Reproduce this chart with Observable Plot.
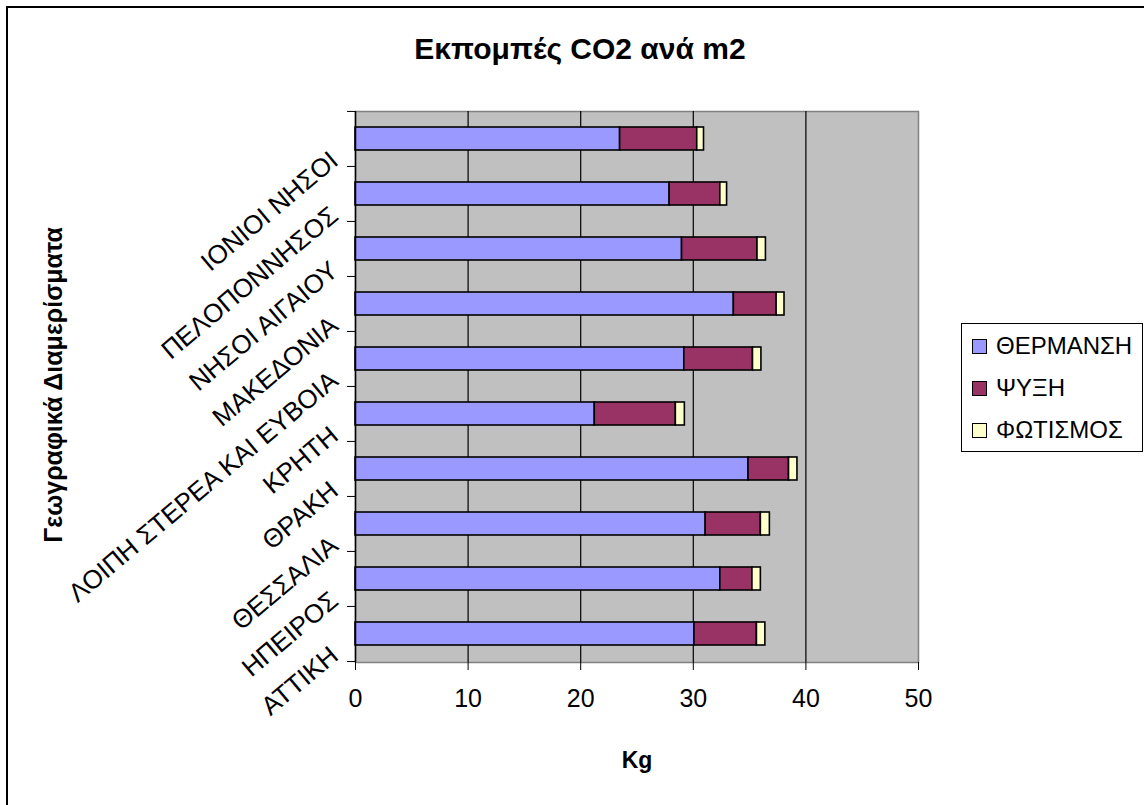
<!DOCTYPE html>
<html>
<head>
<meta charset="utf-8">
<script src="https://cdn.jsdelivr.net/npm/d3@7"></script>
<script src="https://cdn.jsdelivr.net/npm/@observablehq/plot@0.6"></script>
<style>
  body { margin: 0; background: #fff; font-family: "Liberation Sans", Arial, sans-serif; }
  #wrap { position: relative; width: 1144px; height: 805px; overflow: hidden; }
  #chart { position: absolute; left: 0; top: 0; }
  #border { position: absolute; left: 6px; top: 6px; width: 1200px; height: 900px;
            border-left: 2px solid #000; border-top: 2px solid #000; pointer-events: none; }
  .lbl { position: absolute; font-weight: bold; color: #000; white-space: nowrap; line-height: 30px; }
  #title { left: 0; width: 1160px; text-align: center; top: 34px; font-size: 30px; }
  #xtitle { left: 537px; width: 200px; text-align: center; top: 745px; font-size: 23px; }
  #ytitle { left: 53px; top: 385px; font-size: 25px; transform: translate(-50%, -50%) rotate(-90deg); }
  #legend { position: absolute; left: 961px; top: 323px; width: 180px; height: 127px;
            border: 1px solid #000; background: #fff; }
  .item { position: absolute; left: 10px; font-size: 24px; line-height: 28px; white-space: nowrap; }
  .sw { display: inline-block; width: 13px; height: 13px; border: 1.5px solid #000; margin-right: 9px; vertical-align: 0px; }
</style>
</head>
<body>
<div id="wrap">
  <div id="chart"></div>
  <div id="border"></div>
  <div class="lbl" id="title"></div>
  <div class="lbl" id="ytitle"></div>
  <div class="lbl" id="xtitle"></div>
  <div id="legend"></div>
</div>
<script>
// ---- Data ----
const titleText = "Εκπομπές CO2 ανά m2";
const yTitle = "Γεωγραφικά Διαμερίσματα";
const xTitle = "Kg";
const regions = ["ΙΟΝΙΟΙ ΝΗΣΟΙ", "ΠΕΛΟΠΟΝΝΗΣΟΣ", "ΝΗΣΟΙ ΑΙΓΑΙΟΥ", "ΜΑΚΕΔΟΝΙΑ",
  "ΛΟΙΠΗ ΣΤΕΡΕΑ ΚΑΙ ΕΥΒΟΙΑ", "ΚΡΗΤΗ", "ΘΡΑΚΗ", "ΘΕΣΣΑΛΙΑ", "ΗΠΕΙΡΟΣ", "ΑΤΤΙΚΗ"];
const heating  = [23.5, 27.9, 29.0, 33.6, 29.2, 21.25, 34.9, 31.1, 32.4, 30.1];
const cooling  = [6.85, 4.5, 6.7, 3.8, 6.1, 7.2, 3.6, 4.9, 2.85, 5.55];
const lighting = [0.6, 0.6, 0.75, 0.7, 0.75, 0.8, 0.75, 0.8, 0.75, 0.75];
const seriesNames = ["ΘΕΡΜΑΝΣΗ", "ΨΥΞΗ", "ΦΩΤΙΣΜΟΣ"];
const seriesColors = ["#9999FF", "#993366", "#FFFFCC"];
const xTicks = [0, 10, 20, 30, 40, 50];

// ---- Build table ----
const seriesValues = [heating, cooling, lighting];
const data = [];
regions.forEach((r, i) => {
  seriesNames.forEach((s, k) => data.push({region: r, type: s, value: seriesValues[k][i]}));
});

const W = 1144, H = 805;
const mL = 355, mR = 226, mT = 111, mB = 143;
const step = (H - mT - mB) / regions.length;

const chart = Plot.plot({
  width: W, height: H,
  marginLeft: mL, marginRight: mR, marginTop: mT, marginBottom: mB,
  style: {fontFamily: "Liberation Sans, Arial, sans-serif", fontSize: "25px", background: "transparent", color: "#000"},
  x: {domain: [xTicks[0], xTicks[xTicks.length - 1]], label: null},
  y: {domain: regions, paddingInner: 0.58, paddingOuter: 0.29, label: null},
  color: {domain: seriesNames, range: seriesColors},
  marks: [
    Plot.frame({fill: "#C0C0C0", stroke: "#808080", strokeWidth: 1.5}),
    Plot.gridX(xTicks.slice(1, -1), {stroke: "#000", strokeOpacity: 1, strokeWidth: 1.2}),
    Plot.barX(data, {y: "region", x: "value", fill: "type", stroke: "#000", strokeWidth: 1.6}),
    Plot.ruleX([xTicks[0]], {stroke: "#000", strokeWidth: 1.5}),
    Plot.axisX(xTicks, {tickSize: 8, tickPadding: 19, fontSize: 25, label: null, stroke: "#000"}),
    Plot.axisY({tickSize: 8, tickFormat: () => "", dy: -step / 2, label: null}),
    Plot.axisY([regions[regions.length - 1]], {tickSize: 8, tickFormat: () => "", dy: step / 2, label: null}),
    Plot.axisY({tickSize: 0, tickPadding: 0, tickRotate: -40, dx: -21, dy: 18, fontSize: 26, label: null})
  ]
});
document.getElementById("chart").appendChild(chart);

document.getElementById("title").textContent = titleText;
document.getElementById("ytitle").textContent = yTitle;
document.getElementById("xtitle").textContent = xTitle;

const legend = document.getElementById("legend");
seriesNames.forEach((s, k) => {
  const it = document.createElement("div");
  it.className = "item";
  it.style.top = (8 + k * 42) + "px";
  const sw = document.createElement("span");
  sw.className = "sw";
  sw.style.background = seriesColors[k];
  it.appendChild(sw);
  it.appendChild(document.createTextNode(s));
  legend.appendChild(it);
});
</script>
</body>
</html>
